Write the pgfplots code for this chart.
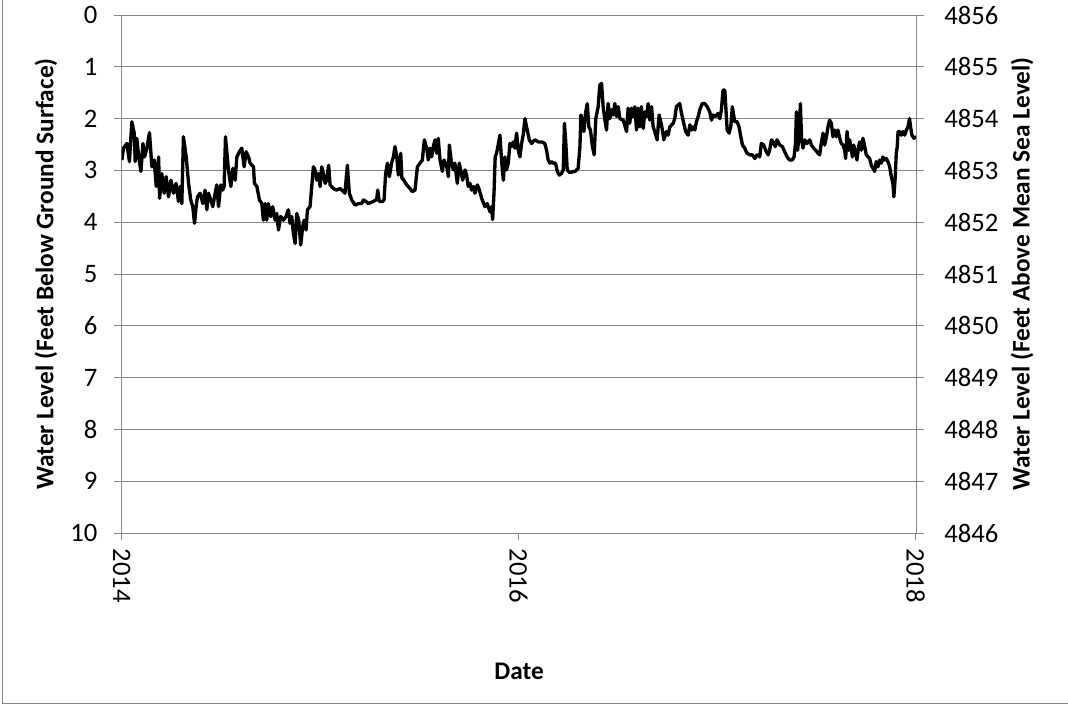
\documentclass[border=0pt]{standalone}
\usepackage{fontspec}
\setmainfont{Carlito}
\usepackage{pgfplots}
\usepackage{pgfplotstable}
\pgfplotsset{compat=1.18}

\definecolor{xlgray}{HTML}{868686}

% water level, feet below ground surface
\pgfplotstableread{
date depth
2014.001 2.80
2014.009 2.57
2014.026 2.48
2014.039 2.83
2014.051 2.06
2014.063 2.28
2014.068 2.83
2014.076 2.38
2014.086 2.74
2014.097 3.02
2014.107 2.48
2014.115 2.74
2014.127 2.57
2014.140 2.27
2014.152 2.93
2014.164 2.80
2014.174 3.31
2014.186 2.74
2014.191 3.54
2014.202 3.06
2014.214 3.44
2014.224 3.12
2014.236 3.51
2014.248 3.19
2014.261 3.44
2014.274 3.25
2014.286 3.60
2014.295 3.31
2014.303 3.64
2014.311 2.35
2014.325 2.74
2014.337 3.25
2014.348 3.57
2014.358 3.70
2014.367 4.02
2014.375 3.70
2014.382 3.51
2014.395 3.44
2014.409 3.64
2014.420 3.38
2014.429 3.76
2014.437 3.44
2014.449 3.57
2014.459 3.70
2014.471 3.44
2014.479 3.28
2014.488 3.70
2014.499 3.28
2014.509 3.38
2014.516 3.31
2014.523 2.35
2014.538 2.99
2014.550 3.31
2014.560 2.96
2014.572 3.19
2014.580 2.74
2014.593 2.64
2014.605 2.57
2014.617 2.93
2014.627 2.64
2014.639 2.74
2014.647 2.86
2014.664 2.93
2014.669 3.25
2014.681 3.31
2014.694 3.57
2014.706 3.64
2014.714 3.96
2014.723 3.64
2014.731 3.96
2014.739 3.64
2014.751 3.89
2014.761 3.70
2014.773 3.96
2014.781 3.83
2014.790 4.15
2014.801 3.89
2014.815 3.96
2014.828 3.89
2014.840 3.76
2014.848 4.02
2014.857 3.89
2014.865 4.22
2014.874 4.41
2014.882 3.83
2014.892 3.96
2014.902 4.44
2014.912 4.09
2014.919 3.96
2014.929 4.15
2014.936 3.76
2014.949 3.70
2014.966 2.93
2014.974 2.99
2014.983 3.19
2014.991 3.06
2015.000 3.31
2015.008 2.93
2015.016 3.06
2015.025 3.25
2015.033 3.19
2015.043 2.90
2015.050 3.28
2015.067 3.35
2015.083 3.38
2015.100 3.35
2015.109 3.38
2015.125 3.44
2015.137 2.90
2015.147 3.44
2015.159 3.57
2015.176 3.67
2015.193 3.64
2015.209 3.64
2015.218 3.57
2015.231 3.60
2015.243 3.64
2015.268 3.60
2015.285 3.56
2015.290 3.38
2015.298 3.60
2015.315 3.60
2015.322 3.57
2015.330 3.06
2015.339 2.86
2015.349 3.12
2015.360 2.86
2015.369 2.74
2015.377 2.54
2015.386 2.74
2015.394 3.09
2015.406 2.67
2015.412 3.15
2015.422 3.19
2015.436 3.28
2015.453 3.35
2015.464 3.41
2015.478 3.38
2015.490 2.93
2015.503 2.86
2015.515 2.80
2015.525 2.41
2015.537 2.57
2015.545 2.80
2015.553 2.57
2015.562 2.74
2015.570 2.54
2015.579 2.41
2015.587 2.67
2015.595 2.38
2015.604 2.80
2015.616 3.02
2015.624 2.80
2015.637 2.90
2015.646 3.12
2015.651 2.51
2015.662 2.86
2015.671 2.99
2015.679 2.86
2015.691 3.25
2015.701 2.86
2015.708 2.99
2015.718 3.19
2015.730 2.99
2015.738 3.09
2015.746 3.31
2015.755 3.25
2015.763 3.38
2015.772 3.31
2015.780 3.44
2015.792 3.28
2015.800 3.35
2015.814 3.54
2015.830 3.70
2015.842 3.64
2015.856 3.80
2015.864 3.70
2015.869 3.95
2015.876 3.44
2015.882 2.74
2015.889 2.67
2015.897 2.51
2015.906 2.32
2015.914 2.80
2015.923 3.19
2015.931 2.74
2015.939 2.99
2015.948 2.86
2015.956 2.48
2015.965 2.54
2015.973 2.45
2015.981 2.57
2015.990 2.28
2015.998 2.61
2016.007 2.74
2016.015 2.48
2016.023 2.32
2016.032 2.00
2016.040 2.16
2016.054 2.41
2016.065 2.48
2016.082 2.41
2016.099 2.45
2016.116 2.45
2016.132 2.48
2016.141 2.61
2016.149 2.80
2016.158 2.86
2016.166 2.83
2016.174 2.86
2016.186 2.86
2016.195 3.02
2016.205 3.09
2016.216 3.06
2016.225 2.99
2016.231 2.09
2016.238 2.48
2016.245 2.99
2016.258 3.04
2016.284 3.02
2016.300 2.96
2016.309 2.54
2016.314 1.93
2016.322 2.06
2016.329 2.25
2016.337 1.90
2016.346 1.71
2016.354 2.16
2016.362 2.22
2016.372 2.54
2016.381 2.70
2016.389 2.00
2016.401 1.77
2016.409 1.35
2016.418 1.32
2016.426 1.77
2016.435 2.03
2016.443 2.22
2016.451 1.71
2016.460 2.00
2016.468 1.83
2016.476 1.93
2016.485 1.71
2016.493 1.96
2016.502 1.77
2016.510 2.00
2016.527 2.03
2016.544 2.25
2016.552 1.80
2016.560 2.09
2016.569 1.80
2016.577 1.96
2016.586 1.77
2016.594 2.22
2016.602 1.80
2016.611 2.16
2016.619 1.77
2016.628 2.19
2016.636 1.87
2016.644 1.96
2016.653 1.71
2016.661 2.03
2016.670 1.77
2016.678 2.16
2016.686 2.25
2016.698 2.41
2016.708 1.93
2016.720 2.12
2016.732 2.41
2016.745 2.25
2016.753 2.32
2016.762 2.16
2016.779 2.09
2016.787 2.00
2016.795 1.77
2016.812 1.71
2016.821 1.90
2016.832 2.09
2016.842 2.25
2016.854 2.32
2016.863 2.12
2016.871 2.22
2016.879 2.16
2016.888 2.22
2016.896 2.06
2016.905 1.96
2016.913 1.83
2016.925 1.71
2016.938 1.71
2016.950 1.77
2016.963 1.87
2016.972 2.03
2016.980 1.93
2016.992 1.96
2017.005 1.90
2017.014 2.00
2017.022 1.83
2017.030 1.45
2017.039 1.45
2017.044 1.77
2017.051 2.22
2017.061 2.28
2017.069 2.16
2017.077 1.77
2017.089 2.06
2017.101 2.06
2017.111 2.16
2017.118 2.32
2017.128 2.51
2017.139 2.57
2017.151 2.67
2017.165 2.70
2017.178 2.70
2017.190 2.77
2017.202 2.70
2017.215 2.74
2017.223 2.48
2017.235 2.51
2017.245 2.61
2017.257 2.70
2017.265 2.61
2017.274 2.41
2017.282 2.45
2017.294 2.54
2017.302 2.41
2017.316 2.51
2017.329 2.54
2017.341 2.64
2017.353 2.74
2017.366 2.80
2017.379 2.80
2017.388 2.74
2017.395 2.48
2017.400 1.87
2017.406 2.61
2017.413 2.32
2017.420 1.71
2017.426 2.41
2017.433 2.57
2017.442 2.41
2017.453 2.48
2017.467 2.41
2017.475 2.51
2017.487 2.57
2017.497 2.61
2017.509 2.67
2017.517 2.70
2017.525 2.48
2017.534 2.28
2017.542 2.51
2017.551 2.35
2017.559 2.16
2017.567 2.03
2017.576 2.09
2017.584 2.35
2017.593 2.22
2017.601 2.35
2017.609 2.22
2017.618 2.38
2017.626 2.48
2017.635 2.51
2017.643 2.61
2017.648 2.77
2017.655 2.25
2017.663 2.61
2017.668 2.41
2017.677 2.61
2017.682 2.74
2017.688 2.51
2017.697 2.64
2017.705 2.80
2017.713 2.54
2017.719 2.45
2017.727 2.61
2017.735 2.38
2017.744 2.54
2017.752 2.70
2017.761 2.74
2017.769 2.77
2017.777 2.90
2017.786 2.96
2017.794 3.02
2017.802 2.83
2017.811 2.93
2017.819 2.80
2017.828 2.86
2017.836 2.74
2017.844 2.80
2017.853 2.77
2017.861 2.83
2017.870 2.93
2017.878 3.12
2017.886 3.25
2017.891 3.51
2017.898 3.12
2017.903 2.67
2017.908 2.54
2017.912 2.25
2017.920 2.25
2017.928 2.32
2017.937 2.25
2017.945 2.32
2017.954 2.22
2017.962 2.16
2017.970 2.00
2017.975 2.16
2017.982 2.32
2017.992 2.38
2018.004 2.35
}\welldata

\pgfplotsset{
  xlstyle/.style={
    scale only axis, width=596.25pt, height=388.5pt,
    xmin=2014, xmax=2018.006,
    /pgf/number format/.cd, 1000 sep={}, assume math mode=true, /pgfplots/.cd,
    axis line style={xlgray, line width=0.75pt},
    tick style={xlgray, line width=0.75pt},
    tick align=outside, major tick length=5.5pt,
    tick label style={font=\fontsize{20}{24}\selectfont, inner sep=0pt},
    label style={font=\bfseries\fontsize{19}{23}\selectfont},
  },
}

\begin{document}
\begin{tikzpicture}[x=0.75pt,y=0.75pt]
\path[use as bounding box] (-121.7,-171) rectangle (946.3,533);
% chart area frame (left and bottom edges fall inside the picture)
\draw[xlgray, line width=0.75pt] (946.3,-170.3) -- (-119,-170.3) -- (-119,533);

\begin{axis}[
  xlstyle,
  ymin=0, ymax=10, y dir=reverse,
  ytick={0,1,...,10},
  xtick={2014,2016,2018},
  axis x line*=bottom, axis y line*=left,
  ymajorgrids, grid style={xlgray, line width=0.75pt},
  xticklabel style={rotate=-90, anchor=west},
  xticklabel shift=6pt,
  yticklabel shift=12.5pt,
  xlabel={Date},
  xlabel style={at={(axis description cs:0.5,-0.268)}, anchor=center},
  ylabel={Water Level (Feet Below Ground Surface)},
  ylabel style={at={(axis description cs:-0.0952,0.5)}, anchor=center},
]
\addplot[black, line width=2.5pt, line join=round, no markers] table[x=date, y=depth] {\welldata};
\end{axis}

\begin{axis}[
  xlstyle,
  ymin=4846, ymax=4856,
  ytick={4846,4847,...,4856},
  axis x line=none, axis y line*=right,
  yticklabel shift=15pt,
  ylabel={Water Level (Feet Above Mean Sea Level)},
  ylabel style={at={(axis description cs:1.1325,0.5)}, anchor=center},
]
\end{axis}
\end{tikzpicture}
\end{document}
